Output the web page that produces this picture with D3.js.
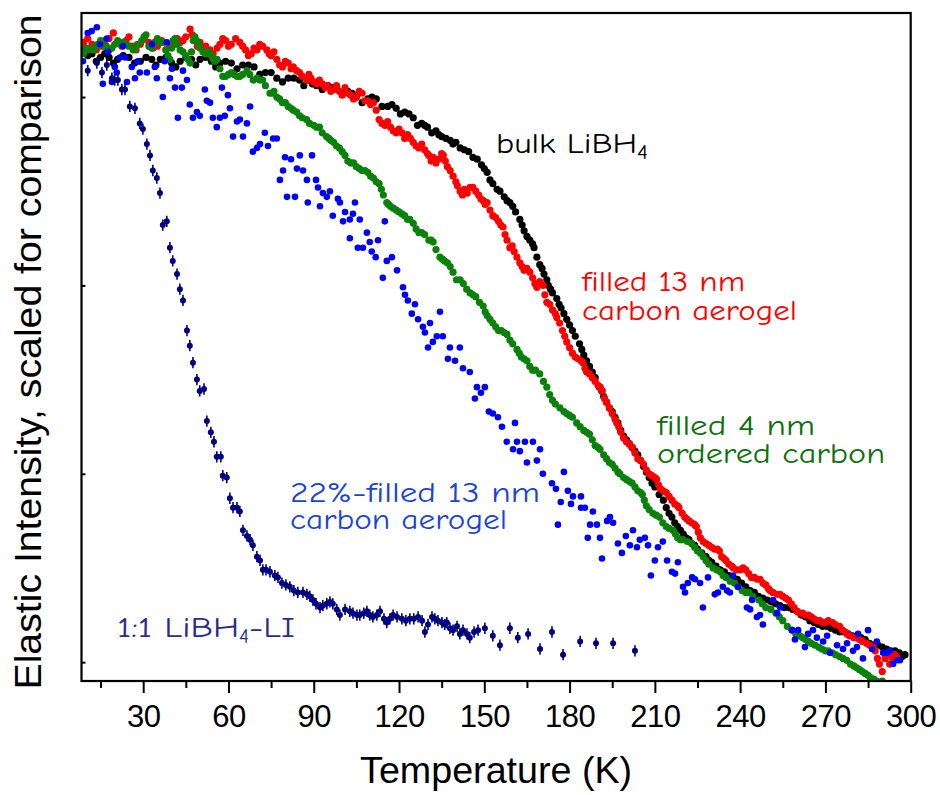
<!DOCTYPE html>
<html>
<head>
<meta charset="utf-8">
<script src="https://cdn.jsdelivr.net/npm/d3@7"></script>
<style>
  body { margin: 0; background: #fff; }
  svg { display: block; }
</style>
</head>
<body>
<svg id="chart" width="940" height="795"></svg>
<script>
// Elastic neutron intensity vs temperature, [T (K), intensity (scaled, a.u.)]
const bulkLiBH4 = [[9,3.25],[10.5,3.22],[12,3.23],[13.5,3.19],[15,3.21],[16.5,3.23],[18,3.21],[19.5,3.18],[21,3.20],[23,3.22],[25,3.21],[27,3.18],[29,3.19],[31,3.21],[33,3.20],[34.5,3.17],[36,3.20],[38,3.21],[40,3.18],[41.5,3.16],[43,3.19],[45,3.21],[47,3.20],[48.5,3.17],[50,3.20],[52,3.21],[54,3.19],[55.5,3.16],[57,3.18],[59,3.19],[61,3.18],[63,3.15],[65,3.17],[67,3.17],[69,3.16],[71,3.12],[73,3.13],[75,3.13],[77,3.10],[79,3.08],[81,3.10],[83,3.10],[85,3.09],[86.5,3.06],[88,3.09],[89.5,3.07],[91,3.06],[93,3.04],[95,3.06],[96.5,3.05],[98,3.05],[100,3.02],[102,3.03],[103.5,3.02],[105,3.00],[107,2.97],[109,2.99],[110.5,3.00],[112,2.99],[114,2.95],[116,2.95],[117.5,2.96],[119,2.94],[120.5,2.91],[122,2.92],[123.5,2.91],[125,2.89],[126.5,2.85],[128,2.86],[129,2.85],[130,2.84],[131.5,2.81],[133,2.82],[134,2.80],[135,2.79],[136.5,2.78],[138,2.77],[139,2.75],[140,2.76],[141.5,2.73],[143,2.72],[144.5,2.71],[146,2.68],[147.5,2.67],[149,2.64],[150,2.62],[151,2.60],[152,2.56],[153,2.54],[154.5,2.51],[155.5,2.50],[157,2.47],[158,2.45],[159,2.44],[160,2.42],[161,2.39],[162.5,2.35],[163.3,2.32],[164,2.29],[165,2.26],[166,2.24],[167,2.22],[167.5,2.20],[168.5,2.15],[169.5,2.11],[170.3,2.09],[171,2.06],[172,2.03],[172.5,2.00],[173.3,1.98],[174,1.96],[175.5,1.93],[176.3,1.90],[177,1.88],[178,1.85],[179,1.82],[180,1.79],[181,1.76],[182,1.73],[183.5,1.69],[184.3,1.66],[185,1.63],[186,1.60],[187,1.57],[188,1.54],[189,1.51],[190.5,1.46],[191.3,1.44],[192,1.41],[193,1.38],[194,1.35],[195,1.33],[196,1.30],[197,1.27],[198,1.23],[199,1.20],[200,1.18],[201,1.16],[202,1.14],[203,1.12],[204,1.10],[205,1.07],[206,1.04],[207,1.01],[208,0.98],[209,0.95],[210,0.93],[211.5,0.89],[213,0.86],[214,0.82],[215,0.79],[216,0.77],[217,0.74],[218,0.72],[219,0.70],[220,0.68],[221,0.66],[222,0.65],[223,0.63],[224,0.62],[225,0.60],[226.5,0.58],[228,0.56],[229,0.54],[230,0.53],[231.5,0.51],[233,0.49],[234.5,0.48],[236,0.46],[237.5,0.45],[239,0.44],[240.5,0.42],[242,0.40],[243.5,0.38],[245,0.37],[246.5,0.35],[248,0.34],[249.5,0.33],[251,0.32],[252.5,0.31],[254,0.30],[255.5,0.29],[257,0.29],[258.5,0.28],[260,0.27],[261.5,0.25],[263,0.24],[264.5,0.22],[266,0.21],[267.5,0.20],[269,0.19],[270.5,0.19],[272,0.18],[273.5,0.17],[275,0.16],[276.5,0.16],[278,0.15],[279.5,0.14],[281,0.14],[282.5,0.13],[284,0.12],[285.5,0.10],[287,0.09],[288.5,0.09],[290,0.08],[291.5,0.07],[293,0.06],[294.5,0.06],[296,0.05],[297,0.03],[298,0.04]];

const filled13nm = [[9,3.29],[10.5,3.31],[12,3.28],[13.5,3.25],[15,3.27],[16.5,3.30],[18,3.31],[19.5,3.34],[21,3.29],[22.5,3.27],[24,3.30],[25,3.32],[26,3.27],[27.5,3.25],[29,3.28],[30.5,3.31],[32,3.29],[33.5,3.26],[35,3.27],[36.5,3.30],[38,3.25],[39.5,3.27],[41,3.28],[42,3.31],[43,3.29],[44,3.30],[45,3.32],[46.5,3.36],[47.3,3.33],[48,3.31],[49,3.27],[50,3.29],[51,3.25],[52,3.27],[53.5,3.25],[54.6,3.23],[56,3.26],[57,3.28],[58,3.31],[59,3.30],[60,3.27],[61,3.28],[62.5,3.31],[64,3.29],[65,3.27],[66,3.25],[67,3.22],[68,3.23],[69,3.26],[70,3.25],[71,3.28],[72,3.27],[73.5,3.25],[74.3,3.23],[75,3.22],[76,3.24],[77,3.20],[78,3.17],[79,3.16],[80,3.19],[81,3.18],[82,3.15],[82.8,3.16],[84,3.14],[85,3.13],[86,3.11],[87.5,3.09],[88.3,3.12],[89,3.10],[90,3.08],[91,3.07],[92,3.09],[93,3.07],[94,3.05],[95,3.06],[96,3.03],[97,3.04],[98,3.06],[99,3.03],[100,3.01],[101,3.05],[102,3.02],[103,3.01],[104,2.99],[105,3.00],[106,3.03],[107,3.02],[108,2.98],[109,2.98],[110,2.96],[111,2.97],[112,2.93],[113,2.88],[114,2.86],[115,2.85],[116,2.87],[117,2.84],[118,2.82],[119,2.81],[120,2.83],[121,2.81],[122,2.78],[123,2.80],[124,2.78],[125,2.76],[126,2.74],[127,2.73],[128,2.75],[129,2.72],[130,2.70],[130.5,2.69],[131.3,2.66],[132,2.68],[133,2.65],[134,2.67],[135,2.70],[135.6,2.69],[136.3,2.66],[137,2.63],[138,2.61],[139,2.58],[140,2.55],[140.5,2.53],[141.5,2.50],[142.3,2.48],[143,2.51],[144,2.49],[145,2.52],[146,2.52],[147,2.50],[148,2.48],[148.8,2.46],[149.6,2.45],[150.3,2.43],[151,2.44],[152,2.40],[153,2.37],[154,2.36],[155,2.34],[155.8,2.32],[156.6,2.31],[157.3,2.27],[158,2.24],[159,2.20],[159.8,2.21],[160.5,2.18],[161.5,2.15],[162.5,2.12],[163.3,2.10],[164,2.08],[165,2.09],[166,2.07],[167,2.04],[167.8,2.01],[168.5,1.99],[169.5,2.02],[170.7,2.00],[171.3,1.95],[172,1.91],[173,1.90],[174,1.87],[175,1.85],[175.5,1.83],[176.5,1.80],[177.5,1.76],[178.3,1.73],[179,1.70],[180,1.67],[181,1.64],[182,1.62],[183,1.61],[184,1.60],[184.7,1.59],[185.4,1.56],[186,1.54],[187,1.53],[188,1.51],[189,1.49],[190,1.47],[190.8,1.46],[191.5,1.44],[192.3,1.40],[193,1.38],[194,1.35],[195,1.32],[196,1.29],[196.6,1.27],[197.3,1.25],[198,1.22],[199,1.19],[200,1.17],[201,1.16],[202,1.14],[203,1.11],[204,1.08],[205,1.07],[206,1.05],[207,1.02],[208,1.00],[209,0.99],[210,0.98],[210.6,0.97],[211.3,0.94],[212,0.92],[213,0.91],[214,0.90],[215,0.88],[216,0.86],[217,0.84],[218,0.83],[218.5,0.82],[219.6,0.79],[220.5,0.77],[221.3,0.76],[222,0.75],[223,0.74],[224,0.73],[224.6,0.72],[225.3,0.69],[226,0.66],[227,0.64],[228,0.63],[229,0.62],[230,0.61],[231,0.60],[232,0.60],[232.7,0.59],[233.5,0.56],[234.3,0.55],[235,0.54],[236,0.52],[237,0.51],[237.6,0.50],[238.8,0.49],[240,0.49],[241,0.50],[242,0.49],[243,0.47],[244,0.45],[245,0.45],[246,0.44],[247,0.44],[248,0.42],[249,0.41],[250,0.39],[250.5,0.38],[251.5,0.37],[253,0.36],[254,0.36],[255,0.35],[256,0.34],[257,0.33],[258,0.31],[259,0.29],[260,0.27],[261,0.26],[262,0.26],[263,0.25],[264,0.25],[265,0.24],[266,0.23],[267,0.22],[268,0.22],[269,0.21],[270,0.21],[271,0.22],[272.5,0.21],[273.5,0.20],[275,0.19],[276,0.17],[277,0.16],[277.6,0.15],[278.5,0.14],[280,0.13],[281,0.13],[282,0.12],[283,0.11],[284.5,0.10],[285.5,0.09],[286.8,0.08],[287.5,0.06],[288.3,0.02],[289,-0.01],[290,-0.05],[291,0.02],[292,0.04],[292.6,-0.01],[293.5,0.02],[294.3,0.04],[295,0.03]];

const filled4nm = [[9,3.23],[10,3.26],[11,3.25],[12.4,3.25],[13.2,3.27],[14,3.28],[15,3.30],[16,3.27],[17,3.27],[18,3.25],[19,3.26],[20,3.28],[21,3.30],[22,3.28],[23,3.29],[24,3.28],[25,3.27],[26.5,3.25],[27.2,3.26],[28,3.28],[29.5,3.30],[30.3,3.32],[31,3.33],[32,3.27],[33,3.26],[34,3.29],[35,3.31],[36,3.29],[37,3.29],[38,3.25],[38.7,3.22],[39.4,3.20],[40,3.26],[40.5,3.30],[41.2,3.31],[42,3.28],[43,3.25],[44,3.24],[45,3.22],[45.8,3.20],[46.5,3.18],[47,3.24],[47.6,3.30],[48.2,3.32],[48.8,3.30],[49.5,3.28],[50,3.26],[51,3.24],[52,3.23],[53,3.24],[54,3.22],[54.6,3.20],[55.3,3.19],[56,3.20],[57,3.15],[58,3.11],[59,3.11],[60,3.12],[61,3.13],[62,3.12],[63,3.11],[64,3.11],[65,3.12],[66.5,3.14],[67.5,3.12],[68.7,3.09],[70,3.10],[71,3.09],[72,3.09],[73,3.06],[74.6,3.02],[75.5,3.02],[76,3.03],[77,3.00],[78,2.99],[79,2.97],[80,2.97],[81,2.95],[82,2.94],[82.8,2.93],[84,2.92],[85,2.90],[86,2.89],[87.5,2.88],[88.5,2.86],[90,2.85],[91,2.84],[92,2.84],[93,2.81],[94.5,2.79],[95.3,2.78],[96,2.77],[97,2.76],[98,2.74],[99,2.73],[100,2.71],[101,2.69],[102,2.66],[103,2.65],[104,2.65],[105,2.63],[106,2.62],[107,2.61],[108,2.61],[109,2.60],[110,2.58],[111,2.57],[112,2.55],[113,2.54],[113.8,2.51],[114.5,2.48],[115.7,2.44],[116.3,2.43],[117,2.42],[118,2.41],[119,2.40],[120,2.39],[121,2.38],[122,2.37],[123,2.35],[123.8,2.35],[125,2.33],[126,2.30],[127,2.28],[128,2.28],[129,2.27],[130.5,2.24],[131.3,2.24],[132,2.23],[133,2.19],[134.4,2.15],[135.2,2.14],[136,2.13],[137,2.12],[138,2.10],[139,2.07],[140.2,2.03],[141.5,2.03],[142.6,2.01],[143.8,1.98],[145,1.96],[146,1.95],[147,1.94],[148.3,1.91],[149.6,1.89],[150.3,1.86],[151,1.84],[152,1.82],[153,1.80],[154,1.78],[155,1.76],[156,1.76],[157,1.75],[158,1.74],[159,1.71],[160,1.69],[161.5,1.66],[162.3,1.64],[163,1.62],[164,1.61],[165,1.60],[166,1.57],[167,1.55],[168,1.55],[169.5,1.53],[170.8,1.49],[172,1.46],[173,1.42],[174,1.39],[175,1.37],[176.6,1.35],[178,1.33],[179,1.32],[180,1.31],[181,1.30],[182.5,1.27],[183.7,1.25],[185,1.23],[186,1.22],[187,1.21],[188,1.18],[189,1.15],[190,1.14],[190.7,1.13],[192,1.10],[193,1.08],[194,1.06],[195,1.05],[196,1.03],[197,1.01],[197.7,1.00],[199,0.98],[200,0.97],[201,0.96],[202,0.95],[203,0.93],[204,0.91],[205,0.90],[205.6,0.89],[206.3,0.86],[207,0.83],[208,0.81],[209.3,0.79],[210.5,0.78],[211.6,0.77],[212.8,0.74],[214,0.72],[215,0.71],[216.4,0.70],[217.2,0.68],[218,0.66],[219,0.65],[219.9,0.65],[221.5,0.64],[223,0.63],[224,0.61],[225,0.59],[226,0.58],[227,0.56],[228,0.54],[229,0.52],[230.5,0.50],[231.8,0.49],[233,0.48],[234,0.46],[235,0.45],[236.5,0.43],[238,0.42],[239.3,0.40],[240.7,0.38],[242,0.37],[243,0.37],[244.5,0.35],[246.6,0.33],[247.8,0.31],[249,0.29],[250.8,0.28],[252.6,0.26],[253.8,0.24],[255,0.22],[256.6,0.19],[258.3,0.17],[259.6,0.15],[261,0.14],[262,0.13],[263,0.12],[264,0.11],[265,0.10],[266.3,0.09],[267.6,0.08],[268.8,0.07],[270,0.06],[271,0.06],[272.3,0.05],[273.6,0.04],[275,0.03],[276.2,0.02],[277.5,0.01],[278.8,-0.01],[280,-0.02],[281,-0.03],[282,-0.04],[283,-0.05],[284,-0.06],[285,-0.07],[285.7,-0.08],[287,-0.09],[288,-0.10],[290,-0.10]];

const partFilled13nm = [[8.8,3.19],[10.5,3.34],[11.9,3.35],[13.7,3.37],[14.8,3.28],[15.8,3.07],[17.2,3.31],[17.6,3.24],[19.0,3.08],[20.0,3.16],[20.7,3.13],[21.8,3.21],[22.9,3.27],[23.6,3.21],[24.3,3.08],[26.0,3.16],[27.1,3.10],[28.1,3.19],[28.8,3.13],[31.3,3.13],[33.1,3.28],[34.1,3.16],[34.8,3.10],[36.9,3.00],[37.6,3.19],[38.3,3.29],[39.4,3.10],[40.1,3.15],[41.2,3.05],[42.2,2.89],[43.6,3.05],[44.0,3.14],[45.4,3.09],[46.4,2.96],[47.5,2.89],[48.9,2.92],[49.9,2.90],[51.7,3.04],[52.4,2.98],[53.5,2.97],[54.5,2.89],[55.9,2.84],[57.0,2.89],[57.7,3.05],[58.7,2.90],[59.8,3.01],[60.5,2.94],[61.6,2.79],[63.0,2.87],[64.0,2.88],[65.1,2.79],[66.5,2.86],[67.6,2.95],[68.6,2.71],[70.0,2.73],[71.1,2.75],[72.8,2.81],[73.9,2.74],[75.7,2.78],[77.0,2.78],[78.1,2.56],[79.2,2.61],[79.9,2.68],[80.6,2.47],[82.0,2.67],[83.4,2.47],[84.1,2.62],[85.1,2.69],[86.2,2.61],[87.6,2.56],[87.9,2.44],[89.4,2.69],[90.8,2.56],[91.5,2.52],[92.2,2.42],[93.2,2.49],[94.6,2.47],[95.7,2.50],[96.7,2.37],[98.5,2.46],[99.2,2.44],[100.3,2.34],[101.0,2.39],[102.7,2.35],[102.7,2.25],[103.8,2.38],[104.5,2.44],[105.5,2.20],[106.2,2.35],[107.3,2.20],[108.7,2.28],[109.7,2.23],[110.4,2.18],[111.8,2.15],[112.6,2.24],[114.3,2.04],[115.0,2.34],[115.7,2.13],[117.5,2.15],[119.3,2.08],[121.4,1.99],[122.1,1.95],[123.1,1.92],[124.5,1.85],[125.6,1.90],[126.7,1.82],[128.4,1.78],[129.1,1.75],[130.2,1.67],[130.9,1.80],[131.9,1.70],[133.3,1.73],[134.4,1.86],[135.4,1.73],[137.2,1.61],[137.9,1.67],[139.7,1.60],[141.4,1.67],[142.5,1.56],[144.9,1.54],[146.7,1.40],[147.4,1.46],[148.8,1.43],[150.2,1.46],[151.6,1.33],[153.0,1.32],[154.8,1.30],[156.2,1.25],[157.9,1.17],[160.1,1.13],[160.8,1.27],[161.5,1.17],[162.5,1.12],[164.3,1.17],[165.0,1.06],[167.1,1.17],[168.5,1.07],[169.6,1.13],[170.6,1.00],[173.8,0.95],[175.2,0.92],[175.9,0.73],[176.9,0.85],[178.0,1.01],[179.4,0.91],[180.5,0.84],[181.2,0.88],[184.0,0.88],[184.0,0.82],[185.4,0.82],[186.4,0.66],[187.2,0.73],[188.2,0.80],[189.6,0.73],[190.7,0.66],[191.4,0.55],[193.2,0.75],[194.2,0.77],[195.3,0.74],[197.0,0.63],[198.4,0.58],[199.8,0.67],[201.2,0.62],[202.3,0.70],[203.7,0.61],[204.7,0.65],[206.5,0.66],[207.6,0.62],[208.6,0.46],[210.0,0.54],[211.1,0.61],[212.8,0.64],[214.3,0.54],[216.0,0.48],[217.1,0.47],[218.1,0.53],[219.9,0.40],[220.6,0.37],[221.6,0.42],[223.1,0.45],[224.1,0.44],[225.9,0.42],[226.9,0.29],[228.7,0.45],[231.1,0.36],[232.2,0.37],[233.9,0.40],[235.4,0.38],[236.4,0.37],[237.5,0.46],[239.2,0.40],[242.4,0.29],[243.5,0.28],[244.2,0.33],[245.9,0.24],[247.0,0.25],[248.0,0.20],[251.6,0.33],[253.0,0.26],[254.1,0.29],[258.2,0.17],[259.3,0.12],[260.4,0.17],[262.8,0.08],[263.9,0.15],[265.6,0.17],[267.0,0.13],[269.2,0.11],[270.6,0.14],[271.6,0.05],[274.1,0.09],[276.2,0.07],[277.6,0.10],[279.7,0.06],[281.1,0.08],[281.5,0.15],[283.2,0.02],[285.0,0.17],[286.4,0.07],[288.1,0.11],[290.3,0.05],[291.7,0.05],[292.7,0.06],[293.8,-0.01],[295.2,0.01],[296.2,0.01]];

const libh4LiI = [[10.5,3.14],[13.7,3.18],[15.5,3.13],[17.2,3.17],[19.0,3.10],[20.0,3.09],[21.1,3.09],[22.5,3.04],[23.6,3.04],[25.3,2.95],[27.1,2.94],[28.8,2.86],[29.9,2.83],[31.3,2.75],[32.4,2.69],[33.4,2.61],[34.8,2.57],[35.9,2.49],[36.9,2.32],[38.3,2.34],[39.4,2.20],[40.4,2.13],[41.9,2.06],[42.9,1.98],[44.0,1.92],[45.4,1.76],[46.4,1.68],[47.5,1.59],[48.9,1.50],[49.9,1.44],[51.4,1.45],[52.4,1.28],[53.8,1.22],[54.9,1.17],[55.9,1.09],[57.3,1.09],[58.0,0.99],[59.4,0.98],[60.5,0.87],[61.6,0.82],[63.0,0.82],[64.0,0.80],[65.1,0.70],[66.5,0.67],[67.6,0.65],[68.6,0.62],[70.0,0.56],[71.1,0.54],[72.1,0.49],[73.2,0.49],[74.6,0.48],[76.3,0.46],[77.4,0.45],[78.8,0.42],[80.2,0.41],[81.6,0.40],[83.0,0.38],[84.4,0.37],[86.2,0.37],[87.6,0.36],[88.6,0.35],[89.7,0.33],[90.8,0.31],[92.2,0.29],[93.2,0.30],[94.6,0.31],[95.7,0.32],[96.7,0.31],[98.1,0.28],[99.2,0.25],[101.0,0.28],[102.7,0.27],[103.8,0.26],[105.2,0.25],[106.2,0.25],[107.6,0.26],[108.7,0.27],[109.7,0.25],[110.8,0.24],[112.2,0.25],[113.3,0.27],[114.7,0.23],[115.7,0.21],[116.8,0.23],[117.9,0.25],[119.3,0.24],[121.0,0.23],[122.4,0.22],[123.8,0.23],[125.2,0.23],[126.7,0.24],[128.1,0.22],[129.1,0.16],[130.2,0.20],[131.6,0.24],[132.6,0.23],[133.7,0.22],[135.1,0.21],[136.1,0.20],[136.8,0.21],[137.9,0.18],[139.0,0.17],[140.4,0.19],[141.4,0.15],[142.5,0.17],[143.9,0.15],[144.9,0.13],[146.4,0.16],[147.8,0.17],[150.2,0.18],[153.0,0.14],[155.5,0.09],[159.0,0.18],[161.8,0.13],[165.4,0.15],[169.6,0.07],[173.8,0.16],[177.7,0.04],[183.7,0.11],[189.3,0.10],[195.3,0.10],[203.0,0.06]];
const libh4LiIError = 0.03;

const xMajorTicks = [30, 60, 90, 120, 150, 180, 210, 240, 270, 300];
const xMinorTicks = [15, 45, 75, 105, 135, 165, 195, 225, 255, 285];
const yTicks = [0, 1, 2, 3];

const svg = d3.select("#chart");
const plot = { left: 81.5, right: 910.7, top: 13, bottom: 681 };

const x = d3.scaleLinear().domain([8.3, 300]).range([plot.left, plot.right]);
const y = d3.scaleLinear().domain([-0.1, 3.446]).range([plot.bottom, plot.top]);

svg.append("defs").append("clipPath").attr("id", "plotClip")
  .append("rect")
  .attr("x", plot.left).attr("y", plot.top)
  .attr("width", plot.right - plot.left).attr("height", plot.bottom - plot.top);

const dataLayer = svg.append("g").attr("clip-path", "url(#plotClip)");

function scatter(data, color, r) {
  dataLayer.append("g").selectAll("circle").data(data).join("circle")
    .attr("cx", d => x(d[0]))
    .attr("cy", d => y(d[1]))
    .attr("r", r)
    .attr("fill", color);
}

scatter(bulkLiBH4, "#000000", 3.6);
scatter(filled13nm, "#ff0000", 3.6);
scatter(filled4nm, "#0a820a", 3.6);
scatter(partFilled13nm, "#0000ff", 3.3);

// 1:1 LiBH4-LiI: points with vertical error bars
const navy = "#000080";
const eb = dataLayer.append("g");
eb.selectAll("line").data(libh4LiI).join("line")
  .attr("x1", d => x(d[0])).attr("x2", d => x(d[0]))
  .attr("y1", d => y(d[1] - libh4LiIError))
  .attr("y2", d => y(d[1] + libh4LiIError))
  .attr("stroke", navy).attr("stroke-width", 1.6);
scatter(libh4LiI, navy, 3);

// Axes
const xAxisMajor = d3.axisBottom(x).tickValues(xMajorTicks).tickSize(12).tickSizeOuter(0);
const gx = svg.append("g").attr("transform", `translate(0,${plot.bottom})`).call(xAxisMajor);
gx.select(".domain").remove();
gx.selectAll(".tick line").attr("stroke", "#000").attr("stroke-width", 2);
gx.selectAll(".tick text")
  .attr("y", 46).attr("dy", null)
  .attr("fill", "#000")
  .style("font-family", "'Liberation Sans', Arial, sans-serif")
  .style("font-size", "31px")
  .style("letter-spacing", "-0.5px");

const xAxisMinor = d3.axisBottom(x).tickValues(xMinorTicks).tickSize(7).tickFormat("");
const gxm = svg.append("g").attr("transform", `translate(0,${plot.bottom})`).call(xAxisMinor);
gxm.select(".domain").remove();
gxm.selectAll(".tick line").attr("stroke", "#000").attr("stroke-width", 2);

const yAxis = d3.axisLeft(y).tickValues(yTicks).tickSize(-4).tickFormat("");
const gy = svg.append("g").attr("transform", `translate(${plot.left},0)`).call(yAxis);
gy.select(".domain").remove();
gy.selectAll(".tick line").attr("stroke", "#000").attr("stroke-width", 2);

// Frame
svg.append("rect")
  .attr("x", plot.left).attr("y", plot.top)
  .attr("width", plot.right - plot.left).attr("height", plot.bottom - plot.top)
  .attr("fill", "none").attr("stroke", "#000").attr("stroke-width", 2.2);

// Axis titles
svg.append("text")
  .attr("x", (plot.left + plot.right) / 2).attr("y", 783)
  .attr("text-anchor", "middle")
  .attr("textLength", 272).attr("lengthAdjust", "spacingAndGlyphs")
  .style("font-family", "'Liberation Sans', Arial, sans-serif")
  .style("font-size", "36px")
  .text("Temperature (K)");

svg.append("text")
  .attr("transform", `translate(41,${(plot.top + plot.bottom) / 2 + 5}) rotate(-90)`)
  .attr("text-anchor", "middle")
  .attr("textLength", 675).attr("lengthAdjust", "spacingAndGlyphs")
  .style("font-family", "'Liberation Sans', Arial, sans-serif")
  .style("font-size", "36px")
  .text("Elastic Intensity, scaled for comparison");

// Series labels: one text element per label; lines and subscripts as tspans
const labelFont = "'Comic Sans MS', 'Comic Neue', 'Open Sans', sans-serif";
function label(x0, yBase, lines, color, size, lineGap) {
  const t = svg.append("text")
    .attr("x", x0).attr("y", yBase)
    .attr("fill", color)
    .style("font-family", labelFont)
    .style("font-size", size + "px");
  lines.forEach((parts, li) => {
    let shift = 0;
    parts.forEach((p, pi) => {
      const s = t.append("tspan").text(p.t);
      if (pi === 0) s.attr("x", x0).attr("dy", li === 0 ? 0 : lineGap - shift);
      else {
        const target = p.sub ? 6 : 0;
        s.attr("dy", target - shift);
        shift = target;
      }
      if (pi === 0) shift = 0;
      if (p.sub) s.style("font-size", Math.round(size * 0.68) + "px");
      if (p.w) s.attr("textLength", p.w).attr("lengthAdjust", "spacingAndGlyphs");
    });
  });
}

label(496, 153, [[{t: "bulk LiBH", w: 141}, {t: "4", sub: true, w: 11}]], "#000000", 29, 0);
label(582, 291, [[{t: "filled 13 nm", w: 163}], [{t: "carbon aerogel", w: 215}]], "#ff0000", 29, 29);
label(657, 435, [[{t: "filled 4 nm", w: 158}], [{t: "ordered carbon", w: 228}]], "#0c700c", 29, 28);
label(290, 502, [[{t: "22%-filled 13 nm", w: 250}], [{t: "carbon aerogel", w: 217}]], "#1a44d8", 29, 27);
label(117, 637, [[{t: "1:1 LiBH", w: 122}, {t: "4", sub: true, w: 10}, {t: "-LI", w: 46}]], "#2b2b8c", 29, 0);
</script>
</body>
</html>
